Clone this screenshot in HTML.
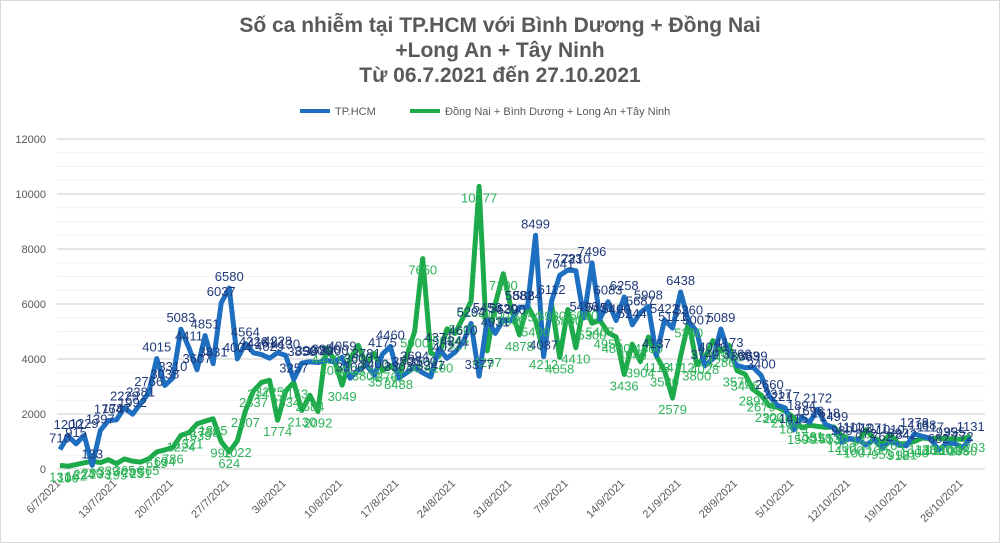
<!DOCTYPE html>
<html><head><meta charset="utf-8"><style>
html,body{margin:0;padding:0;background:#fff}
body{width:1000px;height:543px;overflow:hidden;font-family:"Liberation Sans","Noto Sans CJK SC",sans-serif}
#wrap{position:absolute;left:0;top:0;width:998px;height:541px;border:1px solid #d9d9d9}
</style></head><body><div id="wrap"></div>
<svg id="c" width="1000" height="543" style="position:absolute;left:0;top:0" font-family="Liberation Sans, sans-serif">
<g font-weight="bold" font-size="21" fill="#595959" text-anchor="middle">
<text x="500" y="32">Số ca nhiễm tại TP.HCM với Bình Dương + Đồng Nai</text>
<text x="500" y="57">+Long An + Tây Ninh</text>
<text x="500" y="82">Từ 06.7.2021 đến 27.10.2021</text>
</g>
<g font-size="11" fill="#595959">
<line x1="300" y1="111" x2="330" y2="111" stroke="#1f6fc1" stroke-width="4"/>
<text x="335" y="115">TP.HCM</text>
<line x1="410" y1="111" x2="440" y2="111" stroke="#1daa4a" stroke-width="4"/>
<text x="445" y="115">Đồng Nai + Bình Dương + Long An +Tây Ninh</text>
</g>
<g id="grid"></g>
<g font-size="11" fill="#595959" text-anchor="end">
<text x="46" y="473">0</text><text x="46" y="418">2000</text><text x="46" y="363">4000</text>
<text x="46" y="308">6000</text><text x="46" y="253">8000</text><text x="46" y="198">10000</text><text x="46" y="143">12000</text>
</g>
<g id="xl" font-size="11" fill="#595959" text-anchor="end"></g>
<g transform="translate(60,469) scale(8.06,-0.0275)">
<polyline id="g" fill="none" stroke="#1daa4a" stroke-width="5" vector-effect="non-scaling-stroke" stroke-linejoin="round"/>
<polyline id="b" fill="none" stroke="#1f6fc1" stroke-width="5" vector-effect="non-scaling-stroke" stroke-linejoin="round"/>
</g>
<g id="lb" font-size="13"></g>
</svg>
<script>
var B=[710,1200,915,1229,133,1397,1764,1787,2229,1992,2381,2766,4015,3038,3310,5083,4411,3607,4851,3831,6037,6580,4004,4564,4226,4161,4029,4228,4130,3257,3850,3900,3870,3950,3900,4059,3300,3600,3781,3400,4175,4460,3303,3500,3694,3500,3347,4371,4027,4241,4610,5294,3377,5456,4931,5420,5390,5882,5884,8499,4087,6112,7041,7233,7210,5496,7496,5451,6083,5400,6258,5244,5687,5908,4137,5422,5121,6438,5360,5007,3749,4010,5089,4173,3766,3683,3699,3400,2660,2317,2217,1415,1894,1696,2172,1618,1499,980,1111,1073,872,1071,762,1010,892,842,1278,1188,1117,682,935,925,772,1131];
var G=[131,100,162,224,280,233,339,195,365,285,251,365,619,694,786,1224,1321,1639,1738,1825,992,624,1022,2107,2837,3147,3225,1774,2834,3153,2130,2684,2092,4400,4000,3049,4005,4500,3802,4200,3577,3761,3488,4100,5000,7650,4211,4100,5094,4927,5500,6102,10277,4297,6000,7100,5800,4878,5950,5400,4212,5980,4058,5800,4410,6000,5300,5407,4955,4800,3436,4540,3904,4800,4113,3580,2579,4112,5360,3800,4028,4669,4286,4500,3576,3445,2893,2679,2300,2246,2100,1879,1500,1591,1550,1513,1530,1200,1100,1007,1430,1100,953,1264,918,921,1000,1128,1100,1120,1100,1085,1080,1203];
function X(i){return 60+8.06*i}function Y(v){return 469-v*0.0275}
document.getElementById('b').setAttribute('points',B.map(function(v,i){return i+','+v}).join(' '));
document.getElementById('g').setAttribute('points',G.map(function(v,i){return i+','+v}).join(' '));
var gr=document.getElementById('grid'),s='';
for(var k=0;k<=24;k++){var y=469-k*13.75;s+='<line x1="57" x2="985" y1="'+y+'" y2="'+y+'" stroke="'+(k%4==0?'#dedede':'#f2f2f2')+'" stroke-width="'+(k%4==0?1.5:1)+'"/>';}
gr.innerHTML=s;
var d=['6/7/2021','13/7/2021','20/7/2021','27/7/2021','3/8/2021','10/8/2021','17/8/2021','24/8/2021','31/8/2021','7/9/2021','14/9/2021','21/9/2021','28/9/2021','5/10/2021','12/10/2021','19/10/2021','26/10/2021'];
s='';d.forEach(function(t,j){var x=X(j*7)+1,y=484;s+='<text transform="translate('+x+','+y+') rotate(-45)">'+t+'</text>';});
document.getElementById('xl').innerHTML=s;
s='';
G.forEach(function(v,i){s+='<text x="'+X(i)+'" y="'+(Y(v)+16)+'" fill="#2eb35a" text-anchor="middle">'+v+'</text>';});
B.forEach(function(v,i){s+='<text x="'+X(i)+'" y="'+(Y(v)-7)+'" fill="#1f3a7a" text-anchor="middle">'+v+'</text>';});
document.getElementById('lb').innerHTML=s;
</script>
</body></html>
